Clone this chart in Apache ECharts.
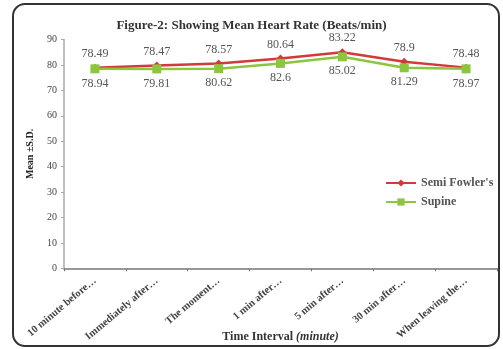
<!DOCTYPE html>
<html><head><meta charset="utf-8">
<script src="https://cdn.jsdelivr.net/npm/echarts@6/dist/echarts.min.js"></script>
<style>html,body{margin:0;padding:0;background:#fff}#c{width:503px;height:349px}</style>
</head><body><div id="c"></div>
<script>
var categories = ["10 minute before…","Immediately after…","The moment…","1 min after…","5 min after…","30 min after…","When leaving the…"];
var semiFowler = [78.94, 79.81, 80.62, 82.6, 85.02, 81.29, 78.97];
var supine = [78.49, 78.47, 78.57, 80.64, 83.22, 78.9, 78.48];
var topLabels = ["78.49","78.47","78.57","80.64","83.22","78.9","78.48"];
var bottomLabels = ["78.94","79.81","80.62","82.6","85.02","81.29","78.97"];
var yTicks = [0,10,20,30,40,50,60,70,80,90];

var serif = '"Liberation Serif","DejaVu Serif",serif';
var chart = echarts.init(document.getElementById('c'));
chart.setOption({
  animation:false,
  backgroundColor:'#fff',
  graphic:[{type:'rect',shape:{x:13,y:4,width:486,height:342,r:12},style:{fill:'none',stroke:'#333',lineWidth:2},z:-1}],
  title:{text:'Figure-2: Showing Mean Heart Rate (Beats/min)',left:'center',top:14,
    textStyle:{fontFamily:serif,fontWeight:'bold',fontSize:13,color:'#333'}},
  legend:{orient:'vertical',left:380,top:172,itemGap:7,itemWidth:30,itemHeight:9,
    textStyle:{fontFamily:serif,fontWeight:'bold',fontSize:12,color:'#555'},
    data:["Semi Fowler's","Supine"]},
  grid:{left:64,right:6,top:39.6,bottom:80.7,containLabel:false,outerBoundsMode:'none'},
  xAxis:{type:'category',data:categories,boundaryGap:true,
    axisLine:{lineStyle:{color:'#777',width:1.5}},
    axisTick:{show:true,length:3,lineStyle:{color:'#777'}},
    axisLabel:{rotate:40,fontFamily:serif,fontWeight:'bold',fontSize:10.5,color:'#444',margin:11},
    name:'{a|Time Interval }{b|(minute)}',nameLocation:'middle',nameGap:63,nameMoveOverlap:false,
    nameTextStyle:{rich:{a:{fontFamily:serif,fontWeight:'bold',fontSize:12,color:'#333'},
      b:{fontFamily:serif,fontWeight:'bold',fontStyle:'italic',fontSize:12,color:'#333'}}}},
  yAxis:{type:'value',min:yTicks[0],max:yTicks[yTicks.length-1],interval:10,
    splitLine:{show:false},
    axisLine:{show:true,lineStyle:{color:'#aaa',width:1.5}},
    axisTick:{show:true,length:3,lineStyle:{color:'#aaa'}},
    axisLabel:{fontFamily:serif,fontSize:10,color:'#444',margin:7},
    name:'Mean ±S.D.',nameLocation:'middle',nameGap:29,nameMoveOverlap:false,
    nameTextStyle:{fontFamily:serif,fontWeight:'bold',fontSize:10,color:'#222'}},
  series:[
    {name:"Semi Fowler's",type:'line',data:semiFowler,color:'#d23a3a',
     symbol:'diamond',symbolSize:8,lineStyle:{width:2.5,color:'#d23a3a'},itemStyle:{color:'#d23a3a'},
     label:{show:true,position:'top',distance:4,fontFamily:serif,fontSize:12,color:'#555',
       formatter:function(p){return topLabels[p.dataIndex];}},z:3},
    {name:'Supine',type:'line',data:supine,color:'#8cc63e',
     symbol:'rect',symbolSize:9,lineStyle:{width:2.5,color:'#8cc63e'},itemStyle:{color:'#8cc63e'},
     label:{show:true,position:'bottom',distance:4,fontFamily:serif,fontSize:12,color:'#555',
       formatter:function(p){return bottomLabels[p.dataIndex];}},z:4}
  ]
});
</script></body></html>
